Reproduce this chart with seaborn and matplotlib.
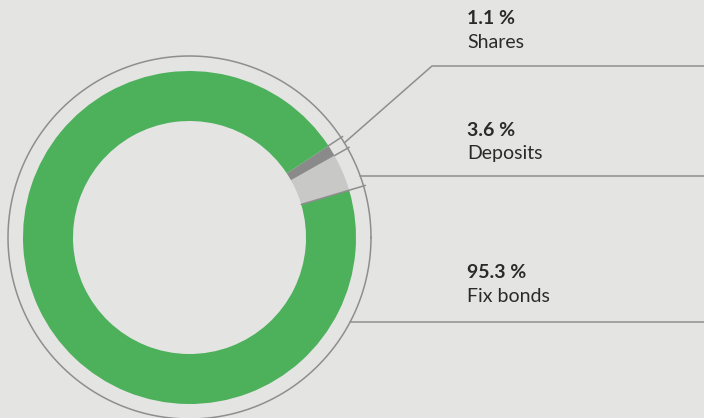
import numpy as np
import seaborn as sns
import matplotlib.pyplot as plt

# data, in drawing order (counter-clockwise from the first boundary)
labels = ['Deposits', 'Shares', 'Fix bonds']
values = [3.6, 1.1, 95.3]
pct_text = ['3.6 %', '1.1 %', '95.3 %']
colors = ['#c8c8c7', '#8a8a8a', '#4db05b']

bg = '#e4e4e3'
line_col = '#8e8e8e'
text_col = '#2a2a2a'

sns.set_theme(style='white', rc={'figure.facecolor': bg, 'axes.facecolor': bg})
plt.rcParams['font.family'] = ['Lato', 'DejaVu Sans']

W, H = 704, 418
fig = plt.figure(figsize=(W / 100, H / 100), dpi=100)
ax = fig.add_axes([0, 0, 1, 1])

cx, cy = 189.5, H - 237.5
r_out, r_in, r_ring = 166.5, 116.5, 181.5
start = 16.5

ax.pie(values, colors=colors, radius=r_out, center=(cx, cy), startangle=start,
       counterclock=True, wedgeprops=dict(width=r_out - r_in, linewidth=0),
       frame=True)
ax.set_xlim(0, W)
ax.set_ylim(0, H)
ax.set_aspect('equal')
ax.axis('off')

# thin outer circle
t = np.linspace(0, 2 * np.pi, 400)
ax.plot(cx + r_ring * np.cos(t), cy + r_ring * np.sin(t), color=line_col, lw=1.1)

# boundaries of the small slices
bounds = start + 3.6 * np.concatenate([[0], np.cumsum(values)])
def pt(ang, r):
    a = np.deg2rad(ang)
    return cx + r * np.cos(a), cy + r * np.sin(a)

for i, ang in enumerate(bounds[:3]):
    r0 = r_in if i == 0 else r_out
    p0, p1 = pt(ang, r0), pt(ang, r_ring + 2)
    ax.plot([p0[0], p1[0]], [p0[1], p1[1]], color=line_col, lw=1.1)

# leader lines
mid_sh = (bounds[1] + bounds[2]) / 2
p = pt(mid_sh, r_ring)
ax.plot([p[0], 432, W], [p[1], H - 66, H - 66], color=line_col, lw=1.1)

for yy in [176, 322]:
    dy = (H - yy) - cy
    x0 = cx + np.sqrt(r_ring ** 2 - dy ** 2)
    ax.plot([x0, W], [H - yy, H - yy], color=line_col, lw=1.1)

# labels: (percent y, name y) in pixels from top
text_pos = {'Shares': (18, 42), 'Deposits': (130, 153), 'Fix bonds': (272, 297)}
for lab, pt_txt in zip(labels, pct_text):
    y1, y2 = text_pos[lab]
    ax.text(467, H - y1, pt_txt, fontsize=14, fontweight='bold', color=text_col,
            ha='left', va='center')
    ax.text(467, H - y2, lab, fontsize=14, color=text_col, ha='left', va='center')

fig.savefig('out.png', dpi=100, facecolor=bg)
